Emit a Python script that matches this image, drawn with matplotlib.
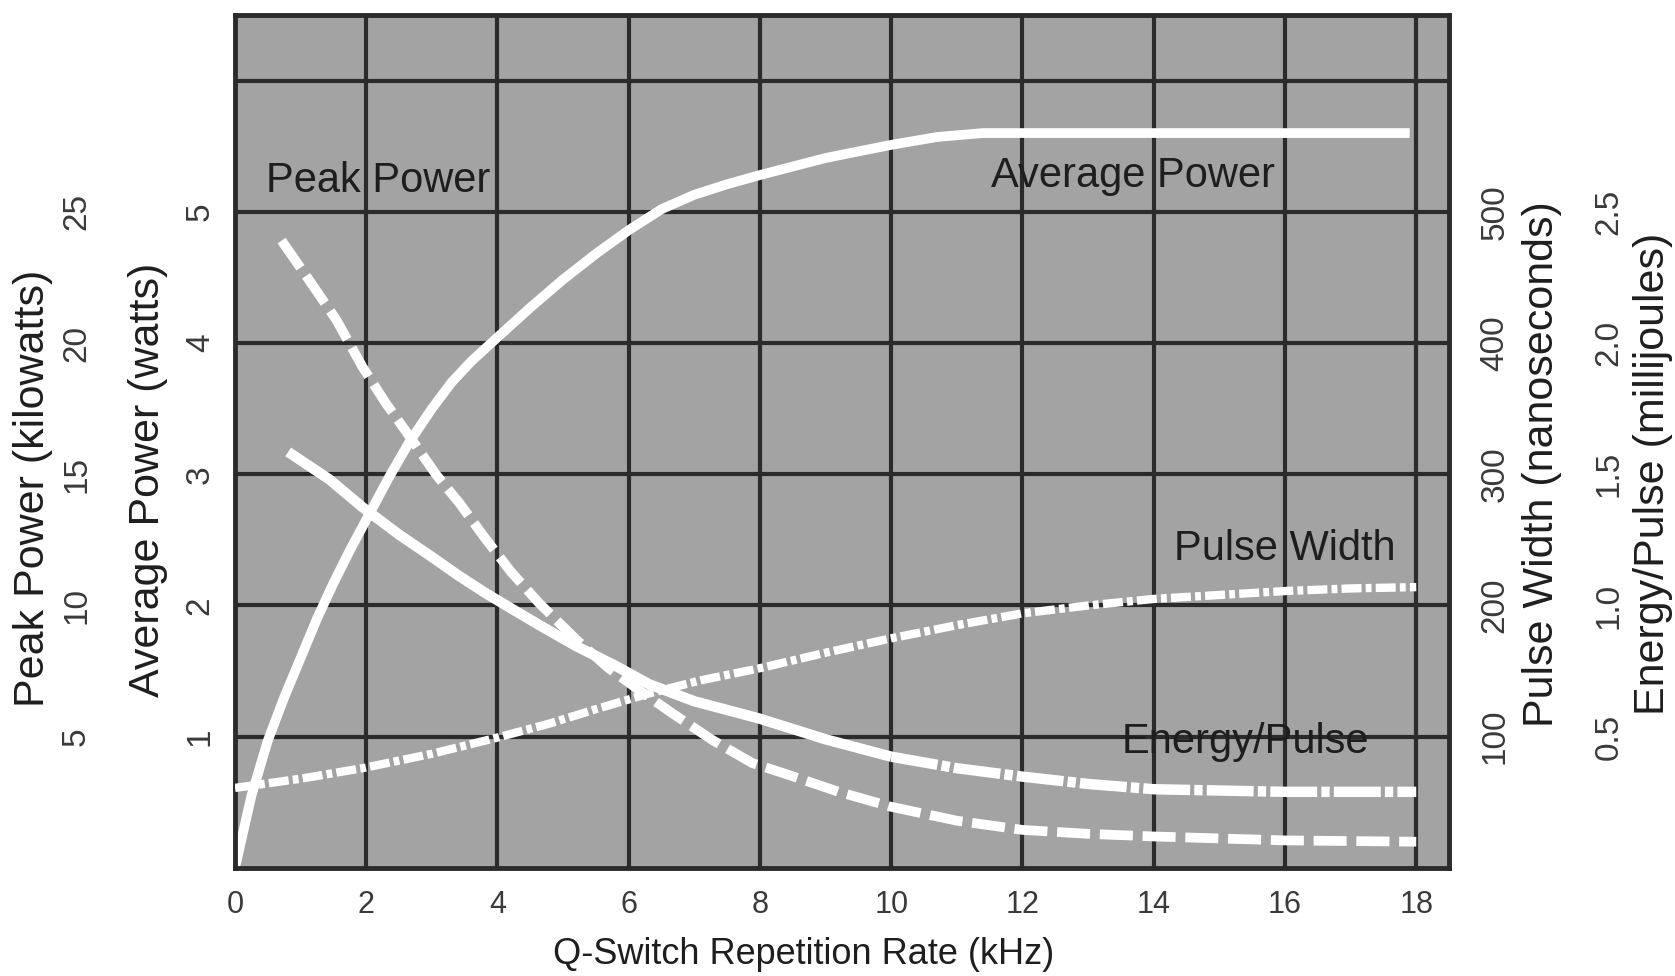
import numpy as np
import matplotlib
matplotlib.use("Agg")
import matplotlib.pyplot as plt
from matplotlib.ticker import FormatStrFormatter

plt.rcParams['font.family'] = ['Liberation Sans', 'DejaVu Sans']

## values
freq_ticks = [0, 2, 4, 6, 8, 10, 12, 14, 16, 18]

avg_khz = [0, 0.25, 0.5, 0.75, 1.0, 1.25, 1.5, 1.75, 2.05, 2.35, 2.65, 3.0, 3.3, 3.6, 3.97,
           4.5, 4.99, 5.5, 6.0, 6.5, 7.0, 7.5, 8.0, 9.0, 10.0, 10.7, 11.4, 14.0, 17.9]
avg_watts = [0, 0.55, 0.97, 1.3, 1.6, 1.9, 2.17, 2.42, 2.7, 2.98, 3.24, 3.5, 3.7, 3.86, 4.03,
             4.27, 4.48, 4.68, 4.86, 5.02, 5.13, 5.21, 5.28, 5.41, 5.51, 5.57, 5.6, 5.6, 5.6]

peak_khz = [0.71, 1.1, 1.54, 1.94, 2.3, 2.7, 3.06, 3.42, 3.8, 4.2, 4.63, 5.2, 5.7, 6.2, 6.66,
            7.27, 7.88, 8.49, 9.2, 10.0, 11.0, 12.0, 13.0, 14.0, 16.0, 18.0]
peak_kw = [23.9, 22.5, 20.9, 19.1, 17.7, 16.3, 15.0, 13.9, 12.6, 11.3, 10.1, 8.7, 7.6, 6.7, 5.9,
           4.88, 4.0, 3.5, 2.9, 2.33, 1.8, 1.45, 1.3, 1.2, 1.05, 1.0]

width_khz = [0, 1.0, 1.94, 3.0, 3.97, 4.79, 5.5, 6.31, 7.1, 7.98, 9.0, 10.0, 11.0, 12.0, 13.0,
             14.0, 15.0, 16.0, 17.0, 18.0]
width_ns = [61, 68, 76, 87, 99, 110, 121, 133, 143, 152, 164, 175, 185, 194, 200,
            205, 208, 211, 213, 214]

energy_khz = [0.81, 1.44, 1.94, 2.5, 3.0, 3.4, 3.8, 4.2, 4.64, 5.2, 5.8, 6.31, 7.0, 7.98, 9.0,
              10.0, 11.0, 12.0, 13.0, 14.0, 16.0, 18.0]
energy_mj = [1.585, 1.48, 1.375, 1.27, 1.185, 1.115, 1.05, 0.99, 0.925, 0.845, 0.77, 0.70, 0.635, 0.57, 0.49,
             0.424, 0.38, 0.348, 0.32, 0.30, 0.29, 0.29]

avg_ticks = [1, 2, 3, 4, 5]
peak_ticks = [5, 10, 15, 20, 25]
width_ticks = [100, 200, 300, 400, 500]
energy_ticks = [0.5, 1.0, 1.5, 2.0, 2.5]

bg = "#a3a3a3"
dark = "#2b2b2b"
tick_col = "#3a3a3a"

fig = plt.figure(figsize=(16.75, 9.76), dpi=100)
ax = fig.add_axes([0.1403, 0.1107, 0.7248, 0.8740])
ax.set_facecolor(bg)

## extra y axes, all sharing the same grid rows
ax_peak = ax.twinx()
ax_pw = ax.twinx()
ax_e = ax.twinx()

ax.set_xlim(0, 18.5)
ax.set_ylim(0, 6.5)
ax_peak.set_ylim(0, 32.5)
ax_pw.set_ylim(0, 650)
ax_e.set_ylim(0, 3.25)

## grid
ax.set_xticks(freq_ticks)
ax.set_yticks(avg_ticks)
ax.set_yticks([6], minor=True)
ax.grid(True, axis="x", which="major", color=dark, lw=3)
ax.grid(True, axis="y", which="both", color=dark, lw=3)
ax.set_axisbelow(True)
for s in ax.spines.values():
    s.set_color(dark)
    s.set_linewidth(3.5)
for a in (ax_peak, ax_pw, ax_e):
    for s in a.spines.values():
        s.set_visible(False)

## curves
ax.plot(avg_khz, avg_watts, color="white", lw=7, solid_capstyle="butt", solid_joinstyle="round")
ax_peak.plot(peak_khz, peak_kw, color="white", lw=7, dashes=(3.4, 1.0), dash_capstyle="butt")
ax_pw.plot(width_khz, width_ns, color="white", lw=6, dashes=(2.4, 0.5, 0.7, 0.5))

## energy/pulse: solid on the steep part, dash-dot on the flat tail
n = energy_khz.index(10.0)
ax_e.plot(energy_khz[:n + 1], energy_mj[:n + 1], color="white", lw=7.5,
          solid_capstyle="butt", solid_joinstyle="round")
ax_e.plot(energy_khz[n:], energy_mj[n:], color="white", lw=7.5, dashes=(4.5, 0.4, 0.8, 0.4))

## curve names
txt = dict(fontsize=30, color="#1e1e1e", ha="center", va="baseline")
ax.text(2.18, 5.15, "Peak Power", **txt)
ax.text(13.69, 5.19, "Average Power", **txt)
ax.text(16.0, 2.35, "Pulse Width", **txt)
ax.text(15.39, 0.877, "Energy/Pulse", **txt)

## x axis
ax.set_xticklabels([str(t) for t in freq_ticks])
ax.tick_params(axis="x", length=0, pad=16, labelsize=22, colors=tick_col)
ax.tick_params(axis="y", which="minor", length=0)
ax.set_xlabel("Q-Switch Repetition Rate (kHz)", fontsize=26, color="#1e1e1e", va="center")
ax.xaxis.set_label_coords(0.468, -0.101)

## y axes
ax_peak.yaxis.tick_left()
ax_peak.yaxis.set_label_position("left")
ax_peak.set_yticks(peak_ticks)
ax_pw.set_yticks(width_ticks)
ax_e.set_yticks(energy_ticks)
ax_e.yaxis.set_major_formatter(FormatStrFormatter("%.1f"))

pads = {ax: 25, ax_peak: 114, ax_pw: 33, ax_e: 115}
for a, p in pads.items():
    a.tick_params(axis="y", which="major", length=0, pad=p, labelsize=24,
                  labelrotation=90, colors=tick_col)
    for lab in a.get_yticklabels():
        lab.set_ha("center")
        lab.set_va("center")

ylab = dict(fontsize=31, color="#1e1e1e", ha="center", va="center")
ax_peak.set_ylabel("Peak Power (kilowatts)", **ylab)
ax_peak.yaxis.set_label_coords(-0.1664, 0.4455)
ax.set_ylabel("Average Power (watts)", **ylab)
ax.yaxis.set_label_coords(-0.0717, 0.455)
ax_pw.set_ylabel("Pulse Width (nanoseconds)", **ylab)
ax_pw.yaxis.set_label_coords(1.0766, 0.4736)
ax_e.set_ylabel("Energy/Pulse (millijoules)", **ylab)
ax_e.yaxis.set_label_coords(1.168, 0.462)

fig.savefig("out.png", dpi=100, facecolor="white")
